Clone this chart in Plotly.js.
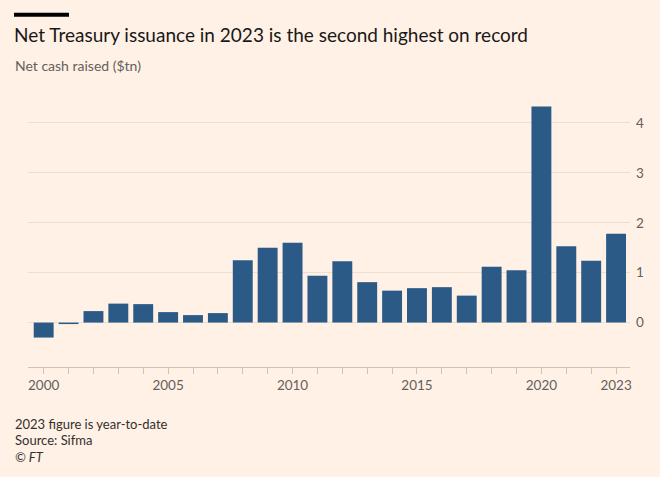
<!DOCTYPE html>
<html>
<head>
<meta charset="utf-8">
<script src="https://cdn.plot.ly/plotly-3.0.1.min.js"></script>
<style>html,body{margin:0;padding:0;background:#fff1e5;}</style>
</head>
<body>
<div id="chart" style="width:660px;height:477px;"></div>
<script>
const years = [2000,2001,2002,2003,2004,2005,2006,2007,2008,2009,2010,2011,2012,2013,2014,2015,2016,2017,2018,2019,2020,2021,2022,2023];
const netCash = [-0.30,-0.03,0.23,0.38,0.37,0.21,0.15,0.19,1.25,1.50,1.60,0.94,1.23,0.81,0.64,0.69,0.71,0.54,1.12,1.05,4.33,1.53,1.24,1.78];
const xTickLabels = years.map(y => ([2000,2005,2010,2015,2020,2023].includes(y) ? String(y) : ''));
const yTicks = [0,1,2,3,4];

const W = 660, H = 477;
const m = {l:28, r:30, t:97.5, b:110};
const pw = W - m.l - m.r, ph = H - m.t - m.b;
const px = x => (x - m.l) / pw;
const py = y => (H - m.b - y) / ph;

const font = "Lato, 'Noto Sans', sans-serif";

const trace = {
  type: 'bar',
  x: years,
  y: netCash,
  marker: {color: '#2b5a87', line: {width: 0}},
  hoverinfo: 'x+y'
};

const layout = {
  width: W, height: H,
  paper_bgcolor: '#fff1e5',
  plot_bgcolor: '#fff1e5',
  margin: m,
  bargap: 0.2,
  showlegend: false,
  font: {family: font, color: '#66605c', size: 13},
  title: {
    text: 'Net Treasury issuance in 2023 is the second highest on record',
    font: {family: font, size: 19, color: '#1a1817'},
    x: 14 / W, xanchor: 'left', xref: 'container',
    y: 1 - 35 / H, yanchor: 'middle', yref: 'container'
  },
  xaxis: {
    range: [1999.37, 2023.56],
    tickvals: years,
    ticktext: xTickLabels,
    ticks: 'outside', ticklen: 6, tickcolor: '#cfc3b8', tickwidth: 1,
    showline: true, linecolor: '#cfc3b8', linewidth: 1,
    showgrid: false, zeroline: false,
    tickfont: {family: font, size: 13.5, color: '#66605c'},
    fixedrange: true
  },
  yaxis: {
    range: [-0.89, 4.5],
    side: 'right',
    tickvals: yTicks,
    ticktext: yTicks.map(String),
    showgrid: true, gridcolor: '#ebdfd4', gridwidth: 1,
    zeroline: false,
    showline: false, ticks: '',
    ticklabelstandoff: 5,
    tickfont: {family: font, size: 13.5, color: '#66605c'},
    fixedrange: true
  },
  shapes: [
    {type: 'rect', xref: 'paper', yref: 'paper',
     x0: px(14), x1: px(69), y0: py(16), y1: py(12),
     fillcolor: '#000000', line: {width: 0}}
  ],
  annotations: [
    {text: 'Net cash raised ($tn)', xref: 'paper', yref: 'paper',
     x: px(13), y: py(65), xanchor: 'left', yanchor: 'middle', showarrow: false,
     font: {family: font, size: 14, color: '#66605c'}},
    {text: '2023 figure is year-to-date', xref: 'paper', yref: 'paper',
     x: px(13), y: py(424), xanchor: 'left', yanchor: 'middle', showarrow: false,
     font: {family: font, size: 13, color: '#33302e'}},
    {text: 'Source: Sifma', xref: 'paper', yref: 'paper',
     x: px(13), y: py(440), xanchor: 'left', yanchor: 'middle', showarrow: false,
     font: {family: font, size: 13, color: '#33302e'}},
    {text: '<i>© FT</i>', xref: 'paper', yref: 'paper',
     x: px(13), y: py(457), xanchor: 'left', yanchor: 'middle', showarrow: false,
     font: {family: font, size: 13, color: '#33302e'}}
  ]
};

Plotly.newPlot('chart', [trace], layout, {displayModeBar: false, staticPlot: true});
</script>
</body>
</html>
